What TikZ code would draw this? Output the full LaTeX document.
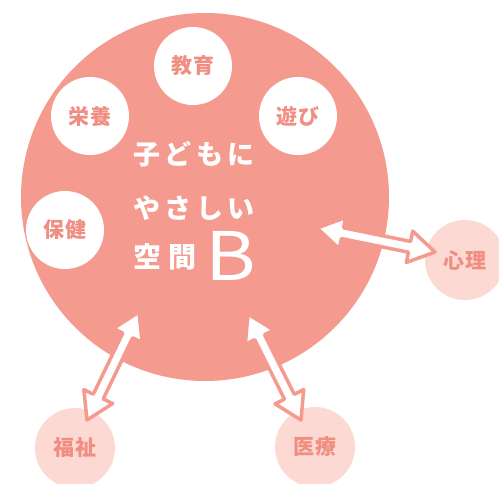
\documentclass[tikz,border=0pt]{standalone}
\usepackage{fontspec}
\setmainfont{Noto Sans CJK JP}
\newfontfamily\jp{Noto Sans CJK JP}
\newfontfamily\jpsp{Noto Sans CJK JP}[LetterSpace=17]
\newfontfamily\jpwide{Noto Sans CJK JP}[LetterSpace=25]
\newfontfamily\jpsm{Noto Sans CJK JP}[LetterSpace=8]
\usetikzlibrary{calc}
\definecolor{salmon}{HTML}{F49A8F}
\definecolor{blush}{HTML}{FCDAD3}
\definecolor{labelc}{HTML}{F08E82}
\tikzset{
  bigc/.style={circle, fill=salmon, minimum size=368pt, inner sep=0pt},
  innerc/.style={circle, fill=white, minimum size=78pt, inner sep=0pt, text=labelc,
    font=\jpsm\bfseries\fontsize{21}{21}\selectfont},
  outerc/.style={circle, fill=blush, minimum size=80pt, inner sep=0pt, text=labelc,
    font=\jpsm\bfseries\fontsize{21}{21}\selectfont},
  centertxt/.style={anchor=west, text=white, inner sep=0pt,
    font=\jpsp\bfseries\fontsize{27}{27}\selectfont},
  widetxt/.style={anchor=west, text=white, inner sep=0pt,
    font=\jpwide\bfseries\fontsize{28}{28}\selectfont},
  bigletter/.style={text=white, inner sep=0pt, xscale=1.15, font=\jp\fontsize{67}{67}\selectfont},
  dblarrow/.style={draw=salmon, fill=white, line width=3.5pt, line join=round},
}
\newcommand\twoheadarrow[2]{%
  \draw[dblarrow] let \p1=(#1), \p2=(#2), \n1={atan2(\y2-\y1,\x2-\x1)} in
    (\p1)
    -- ($(\p1)+(\n1:26pt)+(\n1+90:16pt)$)
    -- ($(\p1)+(\n1:26pt)+(\n1+90:5.5pt)$)
    -- ($(\p2)+(\n1+180:26pt)+(\n1+90:5.5pt)$)
    -- ($(\p2)+(\n1+180:26pt)+(\n1+90:16pt)$)
    -- (\p2)
    -- ($(\p2)+(\n1+180:26pt)+(\n1-90:16pt)$)
    -- ($(\p2)+(\n1+180:26pt)+(\n1-90:5.5pt)$)
    -- ($(\p1)+(\n1:26pt)+(\n1-90:5.5pt)$)
    -- ($(\p1)+(\n1:26pt)+(\n1-90:16pt)$)
    -- cycle;}
\begin{document}
\begin{tikzpicture}[x=1pt, y=-1pt]
  \useasboundingbox (0,0) rectangle (499,483);
  \node[bigc] (space) at (205,197) {};
  \node[innerc] (kyoiku) at (193,66) {教育};
  \node[innerc] (eiyo) at (90,116) {栄養};
  \node[innerc] (asobi) at (298,116) {遊び};
  \node[innerc] (hoken) at (65,230) {保健};
  \node[centertxt] (l1) at (133,154) {子どもに};
  \node[centertxt] (l2) at (133,208) {やさしい};
  \node[widetxt] (l3) at (133,257) {空間};
  \node[bigletter] (bl) at (231,256) {B};
  \node[outerc] (shinri) at (465,260) {心理};
  \node[outerc] (fukushi) at (75,448) {福祉};
  \node[outerc] (iryo) at (315,447) {医療};
  \coordinate (shinriA) at (317,228);
  \coordinate (shinriB) at (435,252);
  \coordinate (fukushiA) at (139,312);
  \coordinate (fukushiB) at (87,420);
  \coordinate (iryoA) at (248,314);
  \coordinate (iryoB) at (301,420);
  \twoheadarrow{shinriA}{shinriB}
  \twoheadarrow{fukushiA}{fukushiB}
  \twoheadarrow{iryoA}{iryoB}
\end{tikzpicture}
\end{document}
